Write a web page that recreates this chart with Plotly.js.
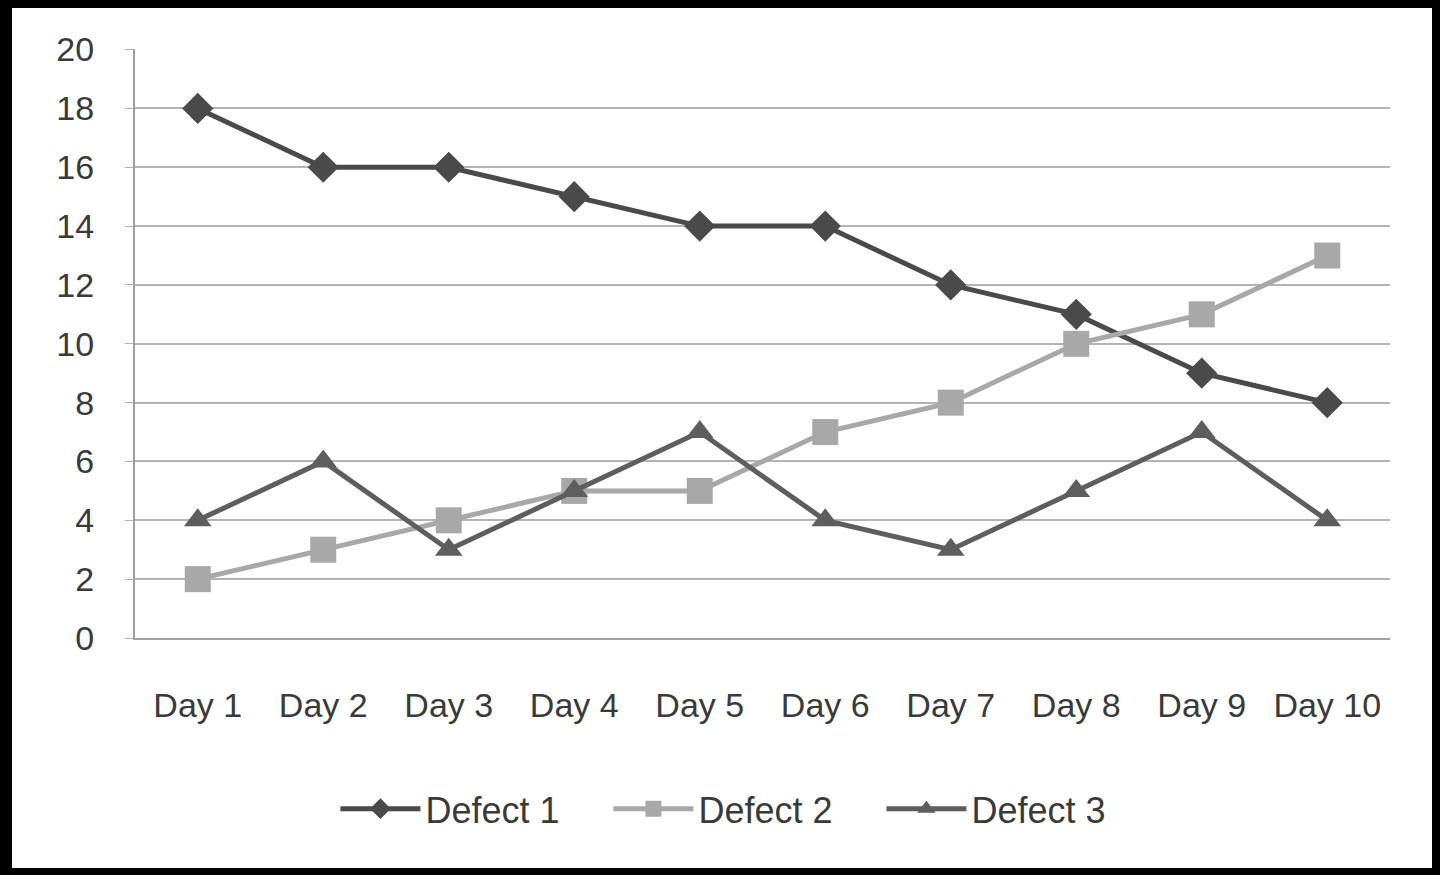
<!DOCTYPE html>
<html><head><meta charset="utf-8">
<script src="https://cdn.plot.ly/plotly-3.0.1.min.js"></script>
<style>
html,body{margin:0;padding:0;background:#000;width:1440px;height:875px;overflow:hidden}
#chart{position:absolute;left:12px;top:8px;width:1420px;height:860px;background:#fff}
</style></head><body>
<div id="chart"></div>
<script>
const days = ["Day 1","Day 2","Day 3","Day 4","Day 5","Day 6","Day 7","Day 8","Day 9","Day 10"];
const defect1 = [18,16,16,15,14,14,12,11,9,8];
const defect2 = [2,3,4,5,5,7,8,10,11,13];
const defect3 = [4,6,3,5,7,4,3,5,7,4];
const seriesNames = ["Defect 1","Defect 2","Defect 3"];

const font = {family:"'Liberation Sans', Arial, sans-serif", size:34, color:"#3a3a3a"};
const traces = [
  {x:days, y:defect1, name:seriesNames[0], type:"scatter", mode:"lines+markers",
   line:{color:"#4a4a4a", width:5}, marker:{symbol:"diamond", size:24, color:"#4a4a4a"}},
  {x:days, y:defect2, name:seriesNames[1], type:"scatter", mode:"lines+markers",
   line:{color:"#a8a8a8", width:5}, marker:{symbol:"square", size:26, color:"#a8a8a8"}},
  {x:days, y:defect3, name:seriesNames[2], type:"scatter", mode:"lines+markers",
   line:{color:"#5e5e5e", width:5}, marker:{symbol:"triangle-up", size:24, color:"#5e5e5e"}}
];
const layout = {
  width:1420, height:860,
  margin:{l:123, r:42, t:41, b:230},
  paper_bgcolor:"#fff", plot_bgcolor:"#fff",
  font:font,
  showlegend:true,
  legend:{orientation:"h", x:0.486, xanchor:"center", y:-0.29, yanchor:"middle",
          font:{family:font.family, size:36, color:"#3a3a3a"}, itemwidth:80,
          entrywidth:178, entrywidthmode:"pixels", tracegroupgap:0},
  xaxis:{type:"category", range:[-0.5,9.5], showgrid:false, showline:true, linecolor:"#a0a0a0", linewidth:2,
         ticks:"", ticklabelstandoff:36, tickfont:font, fixedrange:true},
  yaxis:{range:[0,20.02], dtick:2, tick0:0, showgrid:true, gridcolor:"#b4b4b4", gridwidth:2,
         showline:true, linecolor:"#a0a0a0", linewidth:2, ticks:"outside", ticklen:8, tickcolor:"#b4b4b4",
         zeroline:false, tickfont:font, ticklabelstandoff:24, fixedrange:true}
};
Plotly.newPlot("chart", traces, layout, {displayModeBar:false, staticPlot:true});
</script>
</body></html>
